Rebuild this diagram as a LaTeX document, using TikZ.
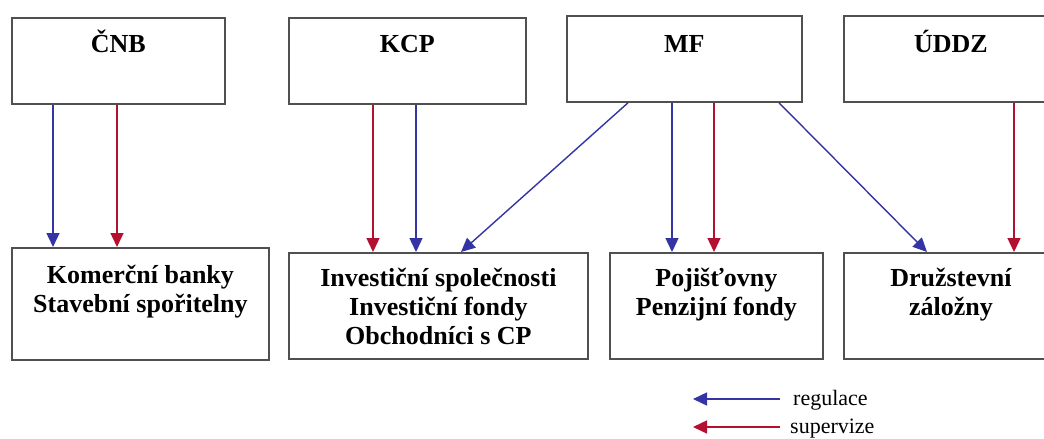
\documentclass[tikz,border=0pt]{standalone}
\usepackage{fontspec}
\setmainfont{Liberation Serif}
\usetikzlibrary{arrows.meta,calc}
\definecolor{regblue}{RGB}{52,52,165}
\definecolor{supred}{RGB}{180,16,48}
\definecolor{boxgray}{RGB}{80,80,80}
\begin{document}
\begin{tikzpicture}[x=1pt,y=-1pt,
  box/.style={draw=boxgray,line width=1.8pt,fill=white,inner sep=0pt,anchor=north west},
  title/.style={font=\fontsize{26}{29}\selectfont\bfseries,anchor=base,inner sep=0pt},
  body/.style={font=\fontsize{26}{29}\selectfont\bfseries,align=center,anchor=north,inner sep=0pt},
  arr/.style={line width=1.4pt,-{Triangle[length=14pt,width=13pt]}},
  reg/.style={arr,draw=regblue},
  sup/.style={arr,draw=supred},
  legend/.style={font=\fontsize{22}{24}\selectfont,anchor=base west,inner sep=0pt}]

\useasboundingbox (0,0) rectangle (1044,439);
\clip (0,0) rectangle (1044,439);
\fill[white] (0,0) rectangle (1044,439);

% top boxes
\node[box,minimum width=213,minimum height=86] (cnb) at (11,17) {};
\node[box,minimum width=237,minimum height=86] (kcp) at (288,17) {};
\node[box,minimum width=235,minimum height=86] (mf) at (566,15) {};
\node[box,minimum width=214,minimum height=86] (uddz) at (843,15) {};

\node[title] (cnbt) at ($(cnb.north)+(0,35)$) {ČNB};
\node[title] (kcpt) at ($(kcp.north)+(0,35)$) {KCP};
\node[title] (mft) at ($(mf.north)+(0,37)$) {MF};
\node[title] (uddzt) at ($(uddz.north)+(0,37)$) {ÚDDZ};

% bottom boxes
\node[box,minimum width=257,minimum height=112] (kb) at (11,247) {};
\node[box,minimum width=299,minimum height=106] (inv) at (288,252) {};
\node[box,minimum width=213,minimum height=106] (poj) at (609,252) {};
\node[box,minimum width=214,minimum height=106] (dz) at (843,252) {};

\node[body] (kbt) at ($(kb.north)+(0,15.5)$) {\strut Komerční banky\\Stavební spořitelny};
\node[body] (invt) at ($(inv.north)+(0,13.5)$) {\strut Investiční společnosti\\Investiční fondy\\Obchodníci s CP};
\node[body] (pojt) at ($(poj.north)+(0,13.5)$) {\strut Pojišťovny\\Penzijní fondy};
\node[body] (dzt) at ($(dz.north)+(0,13.5)$) {\strut Družstevní\\záložny};

% connectors
\draw[reg] ([xshift=42pt]cnb.south west) -- ([xshift=42pt]kb.north west);
\draw[sup] ([xshift=106pt]cnb.south west) -- ([xshift=106pt]kb.north west);

\draw[sup] ([xshift=85pt]kcp.south west) -- ([xshift=85pt]inv.north west);
\draw[reg] ([xshift=128pt]kcp.south west) -- ([xshift=128pt]inv.north west);

\draw[reg] ([xshift=62pt]mf.south west) -- ([xshift=173pt]inv.north west);
\draw[reg] ([xshift=106pt]mf.south west) -- ([xshift=63pt]poj.north west);
\draw[sup] ([xshift=148pt]mf.south west) -- ([xshift=105pt]poj.north west);
\draw[reg] ([xshift=213pt]mf.south west) -- ([xshift=84pt]dz.north west);

\draw[sup] ([xshift=171pt]uddz.south west) -- ([xshift=171pt]dz.north west);

% legend
\node[legend] (lreg) at (793,405) {regulace};
\node[legend] (lsup) at (790,433) {supervize};
\coordinate (r1) at (780,399);
\coordinate (r2) at (693,399);
\coordinate (s1) at (780,427);
\coordinate (s2) at (693,427);
\draw[reg] (r1) -- (r2);
\draw[sup] (s1) -- (s2);
\end{tikzpicture}
\end{document}
